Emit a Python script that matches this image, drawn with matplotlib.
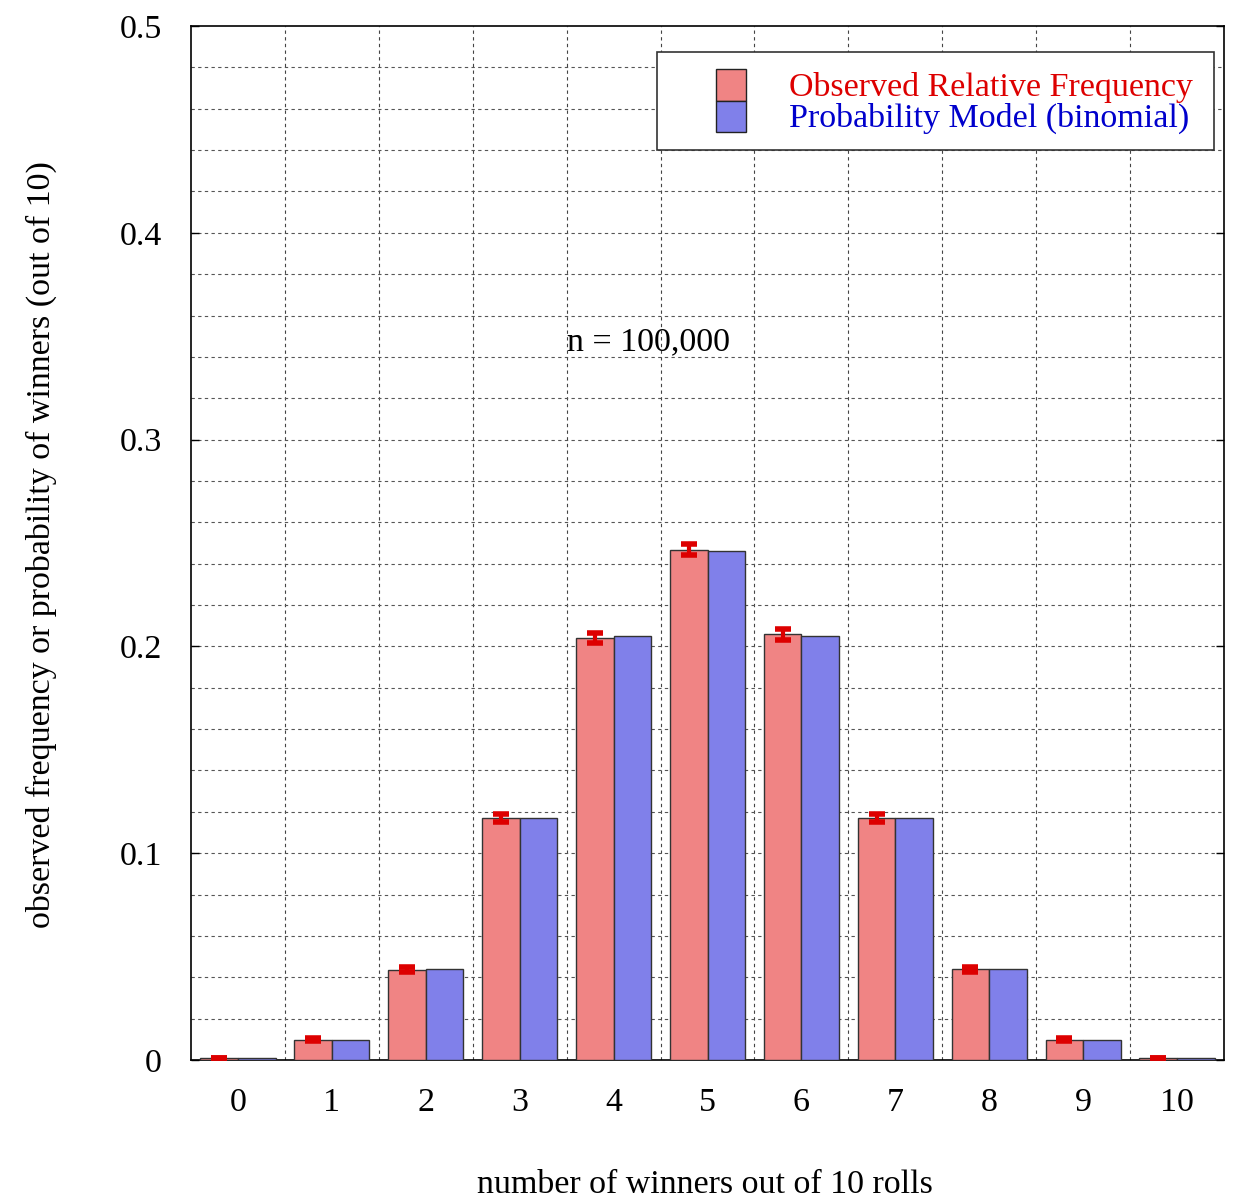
import numpy as np
import matplotlib
matplotlib.use("Agg")
import matplotlib.pyplot as plt
from matplotlib.patches import Rectangle

# winners out of 10 rolls
winners = [0, 1, 2, 3, 4, 5, 6, 7, 8, 9, 10]
tick_labels = [str(k) for k in winners]

observed = [0.0010, 0.0098, 0.0437, 0.1172, 0.2040, 0.2468, 0.2058, 0.1172, 0.0438, 0.0098, 0.0010]
obs_err = [0.0002, 0.0006, 0.0013, 0.0019, 0.0025, 0.0027, 0.0025, 0.0019, 0.0013, 0.0006, 0.0002]
binomial = [0.000977, 0.009766, 0.043945, 0.117188, 0.205078, 0.246094,
            0.205078, 0.117188, 0.043945, 0.009766, 0.000977]
legend_labels = ['Observed Relative Frequency', 'Probability Model (binomial)']

plt.rcParams['font.family'] = ['Liberation Serif', 'DejaVu Serif']
plt.rcParams['font.size'] = 24.5

W, H = 1235, 1199
fig = plt.figure(figsize=(W/100, H/100), dpi=100)

def fx(px):
    return px / W

def fy(py):
    return 1 - py / H

ax = fig.add_axes([fx(191), fy(1060), fx(1224) - fx(191), fy(26) - fy(1060)])

x = np.array(winners)
w = 0.4
red = '#f08484'
blue = '#8080ea'
ax.bar(x - w/2, observed, width=w, color=red, edgecolor='#333333', linewidth=1, zorder=3)
ax.bar(x + w/2, binomial, width=w, color=blue, edgecolor='#333333', linewidth=1, zorder=3)
ax.errorbar(x - w/2, observed, yerr=obs_err, fmt='none', ecolor='#dd0000',
            elinewidth=3, capsize=6, capthick=4, zorder=4)

ax.set_xlim(-0.5, 10.5)
ax.set_ylim(0, 0.5)
ax.set_xticks(x)
ax.set_xticklabels(tick_labels)
ax.set_yticks(np.arange(0, 0.51, 0.1))
ax.set_yticklabels(['0', '0.1', '0.2', '0.3', '0.4', '0.5'])

# gnuplot-like grid
for gx in np.arange(0.5, 10.5, 1.0):
    ax.axvline(gx, color='#444444', linestyle=(0, (3, 3)), linewidth=0.8, zorder=1)
for gy in np.arange(0.02, 0.5, 0.02):
    ax.axhline(gy, color='#555555', linestyle=(0, (3, 3)), linewidth=0.8, zorder=1)

ax.tick_params(axis='both', direction='in', top=True, right=True, length=6, width=1)
ax.tick_params(axis='x', pad=20, length=0)
ax.tick_params(axis='y', pad=21)
for s in ax.spines.values():
    s.set_linewidth(1.2)
    s.set_color('black')

fig.text(fx(705), fy(1185), 'number of winners out of 10 rolls', ha='center', va='center')
fig.text(fx(41), fy(545), 'observed frequency or probability of winners (out of 10)',
         ha='center', va='center', rotation=90)

ax.text(3.5, 0.347, 'n = 100,000', ha='left', va='center', zorder=5)

# legend drawn by hand, gnuplot style
fig.add_artist(Rectangle((fx(657), fy(150)), fx(1214) - fx(657), fy(52) - fy(150),
                         transform=fig.transFigure, facecolor='white', edgecolor='#333333',
                         linewidth=1.2, zorder=6))
fig.add_artist(Rectangle((fx(716), fy(101)), fx(746) - fx(716), fy(69) - fy(101),
                         transform=fig.transFigure, facecolor=red, edgecolor='#222222',
                         linewidth=1, zorder=7))
fig.add_artist(Rectangle((fx(716), fy(132)), fx(746) - fx(716), fy(101) - fy(132),
                         transform=fig.transFigure, facecolor=blue, edgecolor='#222222',
                         linewidth=1, zorder=7))
fig.text(fx(789), fy(96), legend_labels[0], color='#dd0000', ha='left', va='baseline', zorder=8)
fig.text(fx(789), fy(127), legend_labels[1], color='#0000cc', ha='left', va='baseline', zorder=8)

fig.savefig('out.png', dpi=100, facecolor='white')
